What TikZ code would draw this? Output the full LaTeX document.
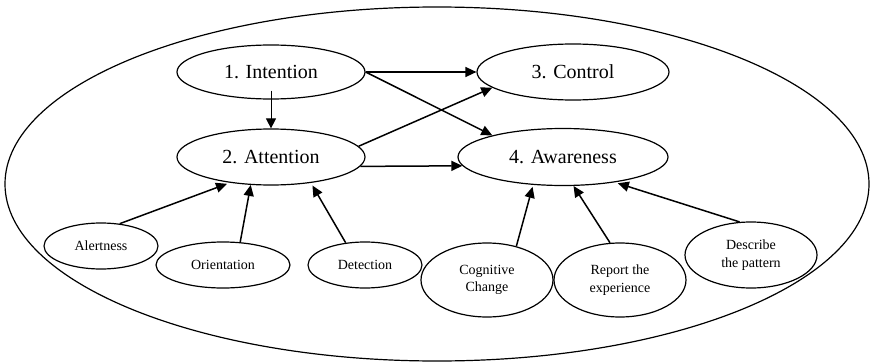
\documentclass[tikz,border=0pt]{standalone}
\usepackage{fontspec}
\setmainfont{Liberation Serif}
\usetikzlibrary{shapes.geometric,arrows.meta}
\begin{document}
\begin{tikzpicture}[x=1pt,y=-1pt,
  oval/.style={draw,ellipse,line width=1.2pt,inner sep=0pt,align=center},
  bignode/.style={oval,font=\fontsize{20}{22}\selectfont},
  smallnode/.style={oval,font=\fontsize{14}{17.5}\selectfont},
  arr/.style={line width=1.5pt,-{Triangle[length=11pt,width=10pt]}},
  thinarr/.style={line width=1pt,-{Triangle[length=10pt,width=10pt]}}]
\useasboundingbox (0,0) rectangle (873,364);
\node[draw,ellipse,line width=1.2pt,minimum width=864pt,minimum height=354pt] (outer) at (437,184) {};
% main nodes
\node[bignode,minimum width=188pt,minimum height=54pt] (I) at (271,72) {1. Intention};
\node[bignode,minimum width=192pt,minimum height=56pt] (C) at (573,72) {3. Control};
\node[bignode,minimum width=188pt,minimum height=56pt] (A) at (271,157) {2. Attention};
\node[bignode,minimum width=210pt,minimum height=57pt] (W) at (563,157) {4. Awareness};
% small nodes
\node[smallnode,minimum width=114pt,minimum height=46pt] (Al) at (101,246) {Alertness};
\node[smallnode,minimum width=134pt,minimum height=46pt] (Or) at (223,265) {Orientation};
\node[smallnode,minimum width=114pt,minimum height=46pt] (De) at (365,265) {Detection};
\node[smallnode,minimum width=132pt,minimum height=74pt] (Co) at (487,280) {Cognitive\\Change};
\node[smallnode,minimum width=132pt,minimum height=74pt] (Re) at (620,280) {Report the\\experience};
\node[smallnode,minimum width=132pt,minimum height=66pt] (Ds) at (751,255) {Describe\\the pattern};
% connectors
\draw[arr] (I.east) -- (C.west);
\draw[arr] (I.east) -- (W.163);
\draw[thinarr,shorten <=-9pt] (I.south) -- (A.north);
\draw[arr] (A.7) -- (C.191);
\draw[arr] (A.-6) -- (W.185);
\draw[arr,shorten >=3pt] (Al.50) -- (A.212);
\draw[arr] (Or.53) -- (A.234);
\draw[arr,shorten >=3pt] (De.131) -- (A.-33);
\draw[arr,shorten >=2pt] (Co.49) -- (W.223);
\draw[arr] (Re.105) -- (W.-70);
\draw[arr,shorten >=3pt] (Ds.109) -- (W.-26);
\end{tikzpicture}
\end{document}
